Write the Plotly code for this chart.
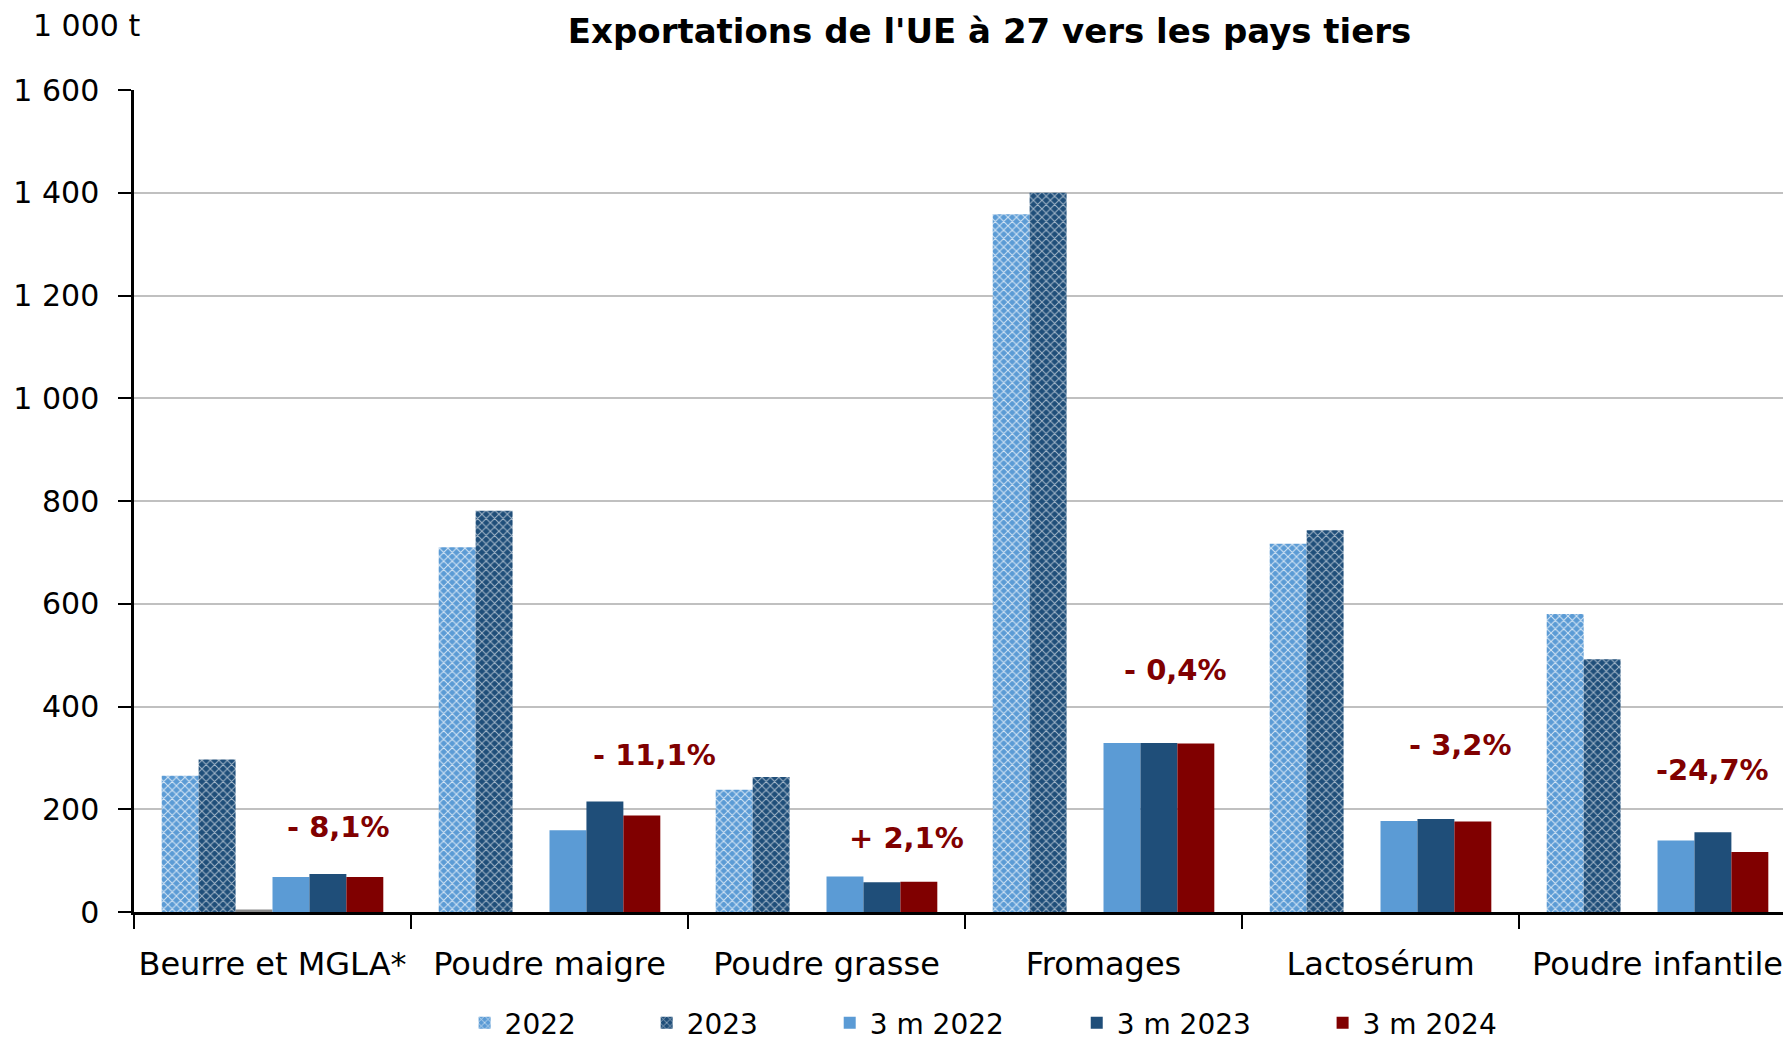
import plotly.graph_objects as go

categories = ["Beurre et MGLA*", "Poudre maigre", "Poudre grasse", "Fromages", "Lactosérum", "Poudre infantile"]
y2022 = [265, 710, 238, 1358, 717, 580]
y2023 = [297, 781, 263, 1400, 743, 492]
y_other = [5, None, None, None, None, None]
m3_2022 = [68, 159, 69, 329, 177, 139]
m3_2023 = [74, 215, 58, 329, 181, 155]
m3_2024 = [68, 188, 59, 328, 176, 117]

var_labels = ["- 8,1%", "- 11,1%", "+ 2,1%", "- 0,4%", "- 3,2%", "-24,7%"]
var_x_offset = [0.24, 0.38, 0.29, 0.26, 0.29, 0.20]
var_y = [166, 305, 144, 471, 325, 277]

y_ticks = [0, 200, 400, 600, 800, 1000, 1200, 1400, 1600]
y_ticktext = ["0", "200", "400", "600", "800", "1 000", "1 200", "1 400", "1 600"]

FONT = "DejaVu Sans"
RED = "#800000"

fig = go.Figure()
fig.add_bar(x=categories, y=y2022, name="2022", legend="legend",
            marker=dict(color="#5B9BD5", line_width=0,
                        pattern=dict(shape="x", bgcolor="#5B9BD5", fgcolor="white",
                                     fgopacity=0.75, size=6, solidity=0.3)))
fig.add_bar(x=categories, y=y2023, name="2023", legend="legend2",
            marker=dict(color="#1F4E79", line_width=0,
                        pattern=dict(shape="x", bgcolor="#1F4E79", fgcolor="white",
                                     fgopacity=0.6, size=6, solidity=0.3)))
fig.add_bar(x=categories, y=y_other, name="", showlegend=False,
            marker=dict(color="#8C8C8C", line_width=0))
fig.add_bar(x=categories, y=m3_2022, name="3 m 2022", legend="legend3",
            marker=dict(color="#5B9BD5", line_width=0))
fig.add_bar(x=categories, y=m3_2023, name="3 m 2023", legend="legend4",
            marker=dict(color="#1F4E79", line_width=0))
fig.add_bar(x=categories, y=m3_2024, name="3 m 2024", legend="legend5",
            marker=dict(color="#800000", line_width=0))

for i, (t, dx, yv) in enumerate(zip(var_labels, var_x_offset, var_y)):
    fig.add_annotation(x=i + dx, y=yv, text=t, showarrow=False,
                       xanchor="center", yanchor="middle",
                       font=dict(family=FONT, size=29, color=RED, weight="bold"))

fig.add_annotation(xref="paper", yref="paper", x=-0.029, y=1.079, text="1 000 t",
                   showarrow=False, xanchor="center", yanchor="middle",
                   font=dict(family=FONT, size=30, color="black"))

legend_x = [0.2005, 0.3109, 0.4219, 0.5717, 0.7208]
leg_common = dict(orientation="h", xanchor="left", y=-0.135, yanchor="middle",
                  font=dict(family=FONT, size=28), bgcolor="rgba(0,0,0,0)")

fig.update_layout(
    width=1783, height=1037,
    margin=dict(l=134, r=0, t=90, b=125, autoexpand=False),
    paper_bgcolor="white", plot_bgcolor="white",
    barmode="group", bargap=0.2, bargroupgap=0,
    font=dict(family=FONT, size=28, color="black"),
    title=dict(text="Exportations de l'UE à 27 vers les pays tiers",
               x=0.555, xanchor="center", y=0.970, yanchor="middle", yref="container",
               font=dict(family=FONT, size=34, color="black", weight="bold")),
    legend=dict(x=legend_x[0], **leg_common),
    legend2=dict(x=legend_x[1], **leg_common),
    legend3=dict(x=legend_x[2], **leg_common),
    legend4=dict(x=legend_x[3], **leg_common),
    legend5=dict(x=legend_x[4], **leg_common),
    showlegend=True,
)
fig.update_xaxes(type="category", range=[-0.5, 5.453], showline=True, linecolor="black",
                 linewidth=2.5, ticks="outside", tickson="boundaries", ticklen=14,
                 tickwidth=2, tickcolor="black", ticklabelstandoff=22, automargin=False,
                 tickangle=0, tickfont=dict(family=FONT, size=32))
fig.update_yaxes(range=[0, 1600], tickvals=y_ticks, ticktext=y_ticktext, showline=True,
                 linecolor="black", linewidth=2.5, ticks="outside", ticklen=13,
                 tickwidth=2, tickcolor="black", showgrid=True, gridcolor="#C0C0C0",
                 gridwidth=2, zeroline=False, ticklabelstandoff=13, automargin=False,
                 tickfont=dict(family=FONT, size=30))

fig.write_html("out.html", config={"displayModeBar": False},
               post_script="document.body.style.margin='0';document.body.style.overflow='hidden';")
